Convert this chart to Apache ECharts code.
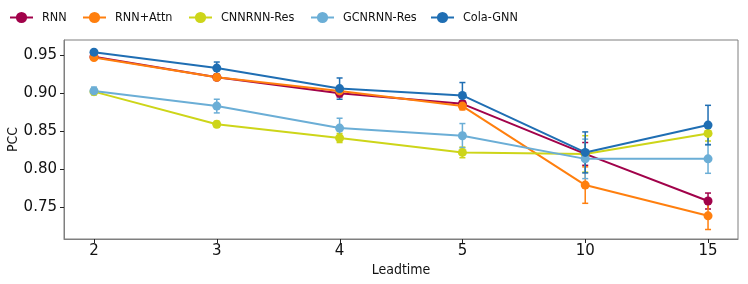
<!DOCTYPE html>
<html>
<head>
<meta charset="utf-8">
<script src="https://cdn.jsdelivr.net/npm/echarts@6/dist/echarts.min.js"></script>
<style>html,body{margin:0;padding:0;background:#fff}#c{width:748px;height:284px}</style>
</head>
<body>
<div id="c"></div>
<script>
var categories = ['2', '3', '4', '5', '10', '15'];
var xTickIdx = [0, 1, 2, 3, 4, 5];
var yTicks = [0.75, 0.80, 0.85, 0.90, 0.95];

var rnn = [0.948, 0.921, 0.900, 0.886, 0.820, 0.758];
var rnnErr = [0.002, 0.003, 0.005, 0.004, 0.015, 0.0105];
var attn = [0.947, 0.921, 0.903, 0.883, 0.779, 0.7385];
var attnErr = [0.002, 0.003, 0.003, 0.005, 0.024, 0.018];
var cnn = [0.902, 0.859, 0.841, 0.822, 0.820, 0.847];
var cnnErr = [0.004, 0.004, 0.006, 0.007, 0.024, 0.010];
var gcn = [0.903, 0.883, 0.854, 0.844, 0.8135, 0.8135];
var gcnErr = [0.005, 0.009, 0.013, 0.016, 0.026, 0.019];
var cola = [0.954, 0.933, 0.906, 0.897, 0.822, 0.858];
var colaErr = [0.002, 0.008, 0.014, 0.017, 0.027, 0.026];

var models = [
  {name: 'RNN', vals: rnn, err: rnnErr, color: '#a1024a', left: 9},
  {name: 'RNN+Attn', vals: attn, err: attnErr, color: '#ff7f0e', left: 82},
  {name: 'CNNRNN-Res', vals: cnn, err: cnnErr, color: '#cdd519', left: 188},
  {name: 'GCNRNN-Res', vals: gcn, err: gcnErr, color: '#6baed6', left: 310},
  {name: 'Cola-GNN', vals: cola, err: colaErr, color: '#1f6eb3', left: 430}
];

var narrowFont = "'DejaVu Sans Condensed', 'DejaVu Sans', sans-serif";
var series = [];
var legends = [];
models.forEach(function (m) {
  series.push({
    name: m.name, type: 'line',
    data: m.vals.map(function (v, i) { return [i, v]; }),
    symbol: 'circle', symbolSize: 9,
    lineStyle: {width: 2, color: m.color},
    itemStyle: {color: m.color},
    emphasis: {disabled: true}, animation: false, z: 3
  });
  series.push({
    name: m.name, type: 'custom',
    data: m.vals.map(function (v, i) { return [i, v - m.err[i], v + m.err[i]]; }),
    renderItem: function (params, api) {
      var lo = api.coord([api.value(0), api.value(1)]);
      var hi = api.coord([api.value(0), api.value(2)]);
      var w = 3;
      var st = {stroke: m.color, lineWidth: 1.5};
      return {type: 'group', children: [
        {type: 'line', shape: {x1: lo[0], y1: lo[1], x2: hi[0], y2: hi[1]}, style: st},
        {type: 'line', shape: {x1: lo[0] - w, y1: lo[1], x2: lo[0] + w, y2: lo[1]}, style: st},
        {type: 'line', shape: {x1: hi[0] - w, y1: hi[1], x2: hi[0] + w, y2: hi[1]}, style: st}
      ]};
    },
    encode: {x: 0, y: [1, 2]},
    animation: false, z: 3
  });
  legends.push({
    data: [m.name], left: m.left, top: 11, padding: 0,
    itemWidth: 23, itemHeight: 14, selectedMode: false,
    textStyle: {fontFamily: narrowFont, fontSize: 12.5, color: '#111', padding: [0, 0, 0, 4]}
  });
});

// axis tick marks, placed through the axes' own scales
var tickData = xTickIdx.map(function (v) { return [v, yTicks[0], 0]; })
  .concat(yTicks.map(function (v) { return [xTickIdx[0], v, 1]; }));
series.push({
  type: 'custom', silent: true, clip: false, z: 5, animation: false,
  data: tickData,
  encode: {x: 0, y: 1},
  renderItem: function (params, api) {
    var cs = params.coordSys;
    var p = api.coord([api.value(0), api.value(1)]);
    var st = {stroke: '#222', lineWidth: 1};
    if (api.value(2) === 0) {
      var yb = cs.y + cs.height;
      var x = Math.round(p[0]) + 0.5;
      return {type: 'line', shape: {x1: x, y1: yb, x2: x, y2: yb + 4}, style: st};
    }
    var y = Math.round(p[1]) + 0.5;
    return {type: 'line', shape: {x1: cs.x - 4, y1: y, x2: cs.x, y2: y}, style: st};
  }
});

var chart = echarts.init(document.getElementById('c'), null, {renderer: 'canvas'});
chart.setOption({
  animation: false,
  backgroundColor: '#fff',
  legend: legends,
  grid: {left: 64, top: 40, right: 10, bottom: 45, show: true, borderColor: '#7f7f7f', borderWidth: 1,
    containLabel: false, outerBoundsMode: 'none'},
  xAxis: {
    type: 'value', min: -0.244, max: 5.244,
    splitLine: {show: false},
    axisLine: {onZero: false, lineStyle: {color: '#7f7f7f'}},
    axisTick: {show: false},
    axisLabel: {customValues: xTickIdx, formatter: function (v) { return categories[Math.round(v)]; },
      fontFamily: 'DejaVu Sans', fontSize: 15, color: '#111', margin: 5},
    name: 'Leadtime', nameLocation: 'middle', nameGap: 24, nameMoveOverlap: false,
    nameTextStyle: {fontFamily: narrowFont, fontSize: 14, color: '#111'}
  },
  yAxis: {
    type: 'value', min: 0.708, max: 0.970,
    splitLine: {show: false},
    axisLine: {show: true, onZero: false, lineStyle: {color: '#7f7f7f'}},
    axisTick: {show: false},
    axisLabel: {customValues: yTicks, formatter: function (v) { return v.toFixed(2); },
      fontFamily: 'DejaVu Sans', fontSize: 15, color: '#111', margin: 7},
    name: 'PCC', nameLocation: 'middle', nameGap: 44, nameMoveOverlap: false,
    nameTextStyle: {fontFamily: narrowFont, fontSize: 14, color: '#111'}
  },
  series: series
});
</script>
</body>
</html>
